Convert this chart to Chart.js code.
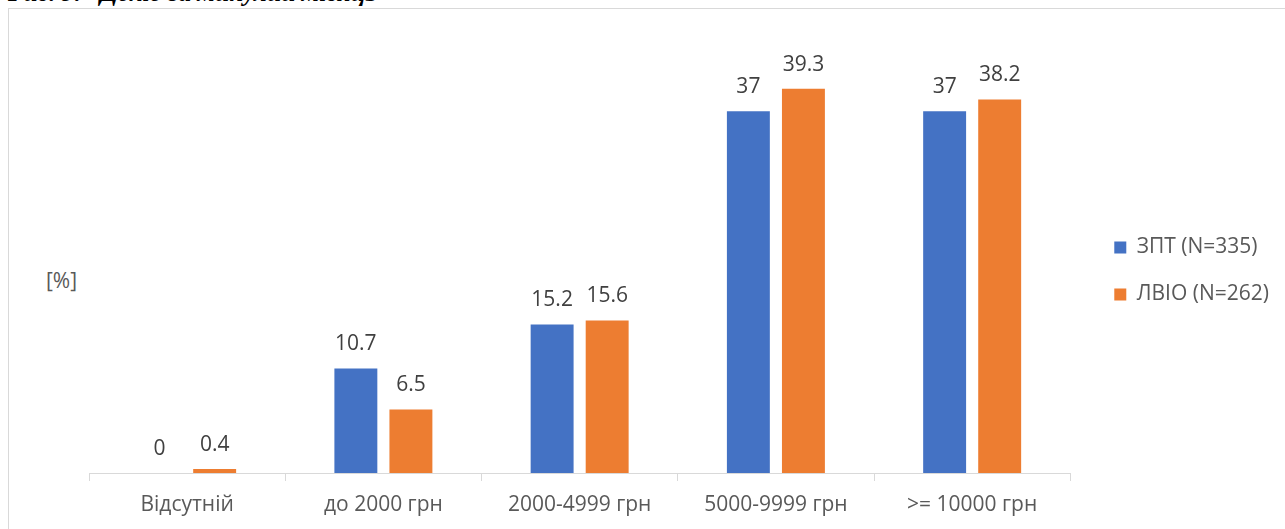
<!DOCTYPE html>
<html>
<head>
<meta charset="utf-8">
<script src="https://cdn.jsdelivr.net/npm/chart.js@4.4.1/dist/chart.umd.min.js"></script>
<style>
  html, body { margin: 0; padding: 0; background: #fff; overflow: hidden; }
  body { width: 1285px; height: 529px; position: relative; font-family: "Open Sans", sans-serif; }
  .caption {
    position: absolute; left: 8px; top: -21px;
    font-family: "Liberation Serif", serif; font-style: italic; font-weight: bold;
    font-size: 25.5px; line-height: 28px; color: #000; white-space: nowrap;
  }
  .caption .num { display: inline-block; width: 92px; }
  .frame {
    position: absolute; left: 8px; top: 8px; width: 1300px; height: 560px;
    border: 1px solid #d9d9d9;
  }
  .unit {
    position: absolute; left: 46px; top: 266px;
    font-size: 21px; color: #595959;
  }
  .chart-wrap { position: absolute; left: 9px; top: 9px; width: 1276px; height: 520px; }
</style>
</head>
<body>
<div class="caption"><span class="num">Рис. 9.</span>Дохід за минулий місяць</div>
<div class="frame"></div>
<div class="unit">[%]</div>
<div class="chart-wrap"><canvas id="chart"></canvas></div>
<script>
const categories = ['Відсутній', 'до 2000 грн', '2000-4999 грн', '5000-9999 грн', '>= 10000 грн'];
const zptValues = [0, 10.7, 15.2, 37, 37];
const lvioValues = [0.4, 6.5, 15.6, 39.3, 38.2];
const seriesNames = ['ЗПТ (N=335)', 'ЛВІО (N=262)'];

// value labels above bars
const valueLabels = {
  id: 'valueLabels',
  afterDatasetsDraw(chart) {
    const ctx = chart.ctx;
    ctx.save();
    ctx.font = '21px "Open Sans"';
    ctx.fillStyle = '#404040';
    ctx.textAlign = 'center';
    ctx.textBaseline = 'alphabetic';
    chart.data.datasets.forEach((ds, i) => {
      chart.getDatasetMeta(i).data.forEach((bar, j) => {
        ctx.fillText(String(ds.data[j]), bar.x, bar.y - 18);
      });
    });
    ctx.restore();
  }
};

const ctx = document.getElementById('chart').getContext('2d');
new Chart(ctx, {
  type: 'bar',
  data: {
    labels: categories,
    datasets: [
      {
        label: seriesNames[0],
        data: zptValues,
        backgroundColor: '#4472C4'
      },
      {
        label: seriesNames[1],
        data: lvioValues,
        backgroundColor: '#ED7D31'
      }
    ]
  },
  options: {
    responsive: true,
    maintainAspectRatio: false,
    animation: false,
    categoryPercentage: 0.561,
    barPercentage: 0.78,
    layout: {
      padding: { left: 80, top: 24, right: 6, bottom: 0 }
    },
    plugins: {
      tooltip: { enabled: false },
      legend: {
        position: 'right',
        fullSize: false,
        // empty title only pushes the entries down a little
        title: {
          display: true,
          text: '',
          font: { size: 10, lineHeight: '36px' },
          padding: 0
        },
        labels: {
          font: { family: 'Open Sans', size: 21 },
          color: '#595959',
          boxWidth: 12,
          boxHeight: 12,
          padding: 26
        }
      }
    },
    scales: {
      x: {
        grid: {
          display: true,
          drawOnChartArea: false,
          drawTicks: true,
          tickLength: 8,
          color: '#d9d9d9',
          offset: true
        },
        border: { display: true, color: '#d9d9d9' },
        ticks: {
          font: { family: 'Open Sans', size: 21, lineHeight: '24px' },
          color: '#595959',
          padding: 12,
          maxRotation: 0
        }
      },
      y: {
        display: false,
        min: 0,
        max: 45
      },
      // empty spacer between plot and legend
      gap: {
        type: 'linear',
        position: 'right',
        min: 0,
        max: 1,
        grid: { display: false },
        border: { display: false },
        ticks: { display: false },
        afterFit(axis) { axis.width = 18; }
      }
    }
  },
  plugins: [valueLabels]
});
</script>
</body>
</html>
